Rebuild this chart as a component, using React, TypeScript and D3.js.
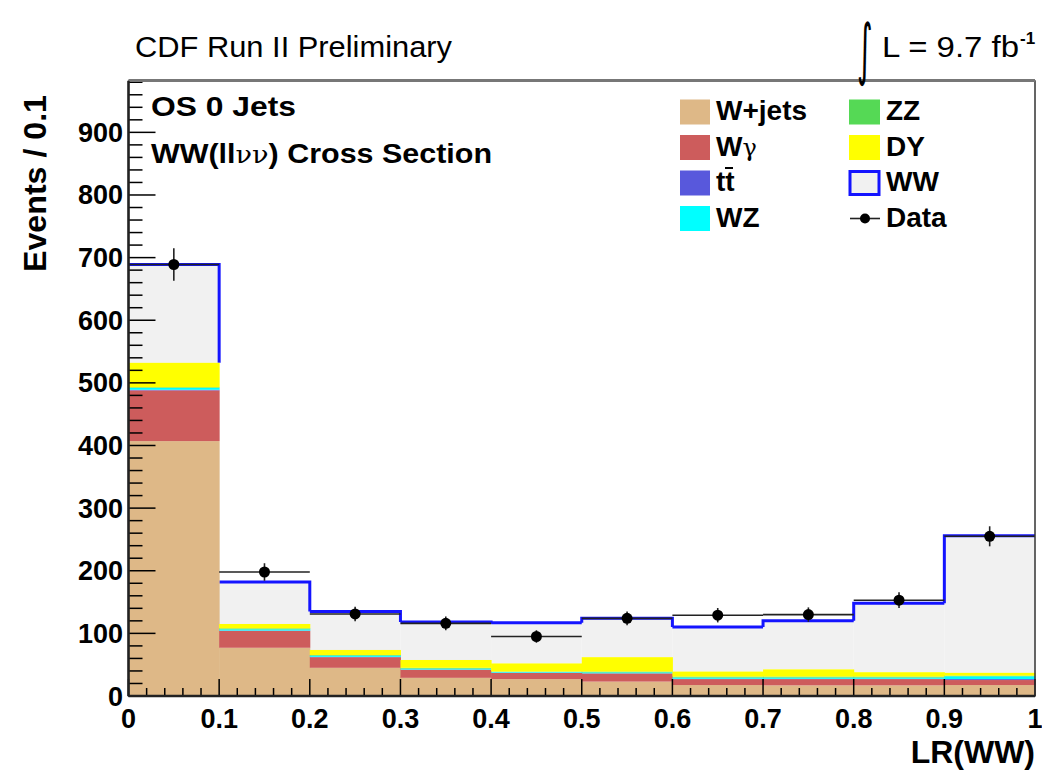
import React from "react";
import * as d3 from "d3";

// LR(WW) bins: lower edges 0.0 ... 0.9, width 0.1
const binEdges = [0, 0.1, 0.2, 0.3, 0.4, 0.5, 0.6, 0.7, 0.8, 0.9, 1.0];

// Background and signal expectations per bin (events / 0.1)
const wJets = [407, 77, 45, 29, 27, 23, 17.5, 17, 17, 17.5];
const wGamma = [81, 27, 17, 13, 10, 13, 9.5, 10, 10, 8];
const ttbar = [1, 0.5, 0.5, 0.3, 0.3, 0.3, 0.5, 0.5, 0.5, 1.5];
const wz = [3, 2, 2, 1.5, 1.2, 1.5, 2, 2, 2, 4.5];
const zz = [1, 1.5, 1, 1.2, 0.5, 1.2, 1.5, 1.5, 1.5, 1];
const dy = [39, 7, 8, 12.5, 13, 23, 8, 11.5, 7, 4.5];
const ww = [157, 67, 61.5, 60.5, 65, 62, 71, 77.5, 110, 219];

// Observed data and statistical errors
const dataCounts = [689, 198, 131, 116, 95, 124, 129, 130, 153, 255];
const dataErrors = [26, 14, 11.5, 11, 10, 11, 11.5, 11.5, 12.5, 16];

const yMajorTicks = [0, 100, 200, 300, 400, 500, 600, 700, 800, 900];
const xMajorTicks = [0, 0.1, 0.2, 0.3, 0.4, 0.5, 0.6, 0.7, 0.8, 0.9, 1];
const xTickLabels = ["0", "0.1", "0.2", "0.3", "0.4", "0.5", "0.6", "0.7", "0.8", "0.9", "1"];

const COLORS = {
  wJets: "#deb887",
  wGamma: "#cd5c5c",
  ttbar: "#5858dc",
  wz: "#00ffff",
  zz: "#55d955",
  dy: "#ffff00",
  wwFill: "#f1f1f1",
  wwLine: "#1414ff",
};

const FONT = "'Liberation Sans', Arial, Helvetica, sans-serif";

export default function App() {
  const width = 1042;
  const height = 773;
  const x = d3.scaleLinear().domain([0, 1]).range([128.5, 1035]);
  const y = d3.scaleLinear().domain([0, 982]).range([696, 81]);

  const nBins = wJets.length;
  // stack order bottom -> top
  const components = [
    { key: "wJets", values: wJets, color: COLORS.wJets },
    { key: "wGamma", values: wGamma, color: COLORS.wGamma },
    { key: "ttbar", values: ttbar, color: COLORS.ttbar },
    { key: "wz", values: wz, color: COLORS.wz },
    { key: "zz", values: zz, color: COLORS.zz },
    { key: "dy", values: dy, color: COLORS.dy },
  ];

  const bins = d3.range(nBins);
  const lowerTotals = bins.map((i) => components.reduce((s, c) => s + c.values[i], 0));
  const totals = bins.map((i) => lowerTotals[i] + ww[i]);

  // stacked rectangles for the backgrounds
  const stackRects: any[] = [];
  bins.forEach((i) => {
    let base = 0;
    components.forEach((c) => {
      const v = c.values[i];
      stackRects.push({
        key: `${c.key}-${i}`,
        x0: x(binEdges[i]),
        x1: x(binEdges[i + 1]),
        yTop: y(base + v),
        yBot: y(base),
        color: c.color,
      });
      base += v;
    });
  });

  // outline of the total expectation (WW on top of the stack)
  let outline = "";
  bins.forEach((i) => {
    const x0 = x(binEdges[i]);
    const x1 = x(binEdges[i + 1]);
    const yt = y(totals[i]);
    outline += `${i === 0 ? "M" : "L"}${x0},${yt}L${x1},${yt}`;
    if (i < nBins - 1) {
      const hi = Math.max(totals[i], totals[i + 1]);
      const lo = Math.min(totals[i], totals[i + 1]);
      const coverTop = totals[i] > totals[i + 1] ? lowerTotals[i] : lowerTotals[i + 1];
      const stop = Math.max(lo, coverTop);
      if (totals[i] > totals[i + 1]) {
        outline += `L${x1},${y(stop)}M${x1},${y(totals[i + 1])}`;
      } else {
        outline += `M${x1},${y(stop)}L${x1},${y(hi)}`;
      }
    }
  });

  const yMinor = d3.range(0, 981, 20).filter((v) => v % 100 !== 0);
  const xMinor = d3.range(0, 51).map((k) => k / 50).filter((_, k) => k % 5 !== 0);

  const legendLeft = [
    { label: "W+jets", color: COLORS.wJets },
    { label: "Wγ", color: COLORS.wGamma },
    { label: "tt", color: COLORS.ttbar },
    { label: "WZ", color: COLORS.wz },
  ];
  const legendRight = [
    { label: "ZZ", color: COLORS.zz },
    { label: "DY", color: COLORS.dy },
    { label: "WW", color: COLORS.wwFill },
    { label: "Data", color: "none" },
  ];

  const legendBase = 120;
  const legendStep = 35.5;

  const renderLabel = (label: string, tx: number, ty: number) => {
    if (label === "Wγ") {
      return (
        <text x={tx} y={ty} fontFamily={FONT} fontSize={28} fontWeight="bold">
          W<tspan fontWeight="normal" fontFamily="'DejaVu Serif', serif" fontSize={24}>γ</tspan>
        </text>
      );
    }
    if (label === "tt") {
      return (
        <g>
          <text x={tx} y={ty} fontFamily={FONT} fontSize={28} fontWeight="bold">tt</text>
          <line x1={tx + 9} x2={tx + 17} y1={ty - 23} y2={ty - 23} stroke="#000" strokeWidth={2} />
        </g>
      );
    }
    return (
      <text x={tx} y={ty} fontFamily={FONT} fontSize={28} fontWeight="bold">{label}</text>
    );
  };

  return (
    <svg
      width={width}
      height={height}
      viewBox={`0 0 ${width} ${height}`}
      style={{ position: "absolute", left: 0, top: 0, background: "#fff" }}
    >
      <rect x={0} y={0} width={width} height={height} fill="#fff" />

      {/* frame background */}
      <rect x={x(0)} y={y(982)} width={x(1) - x(0)} height={y(0) - y(982)} fill="#fff" />

      {/* WW on top of the stack */}
      {bins.map((i) => (
        <rect
          key={`ww-${i}`}
          x={x(binEdges[i])}
          width={x(binEdges[i + 1]) - x(binEdges[i])}
          y={y(totals[i])}
          height={y(lowerTotals[i]) - y(totals[i])}
          fill={COLORS.wwFill}
        />
      ))}
      <path d={outline} fill="none" stroke={COLORS.wwLine} strokeWidth={3} />

      {/* background stack */}
      {stackRects.map((r) => (
        <rect
          key={r.key}
          x={r.x0}
          width={r.x1 - r.x0 + 0.5}
          y={r.yTop}
          height={Math.max(0, r.yBot - r.yTop)}
          fill={r.color}
        />
      ))}

      {/* data points */}
      {bins.map((i) => {
        const cx = x((binEdges[i] + binEdges[i + 1]) / 2);
        const cy = y(dataCounts[i]);
        return (
          <g key={`d-${i}`}>
            <line x1={x(binEdges[i])} x2={x(binEdges[i + 1])} y1={cy} y2={cy} stroke="#222" strokeWidth={1.6} />
            <line x1={cx} x2={cx} y1={y(dataCounts[i] + dataErrors[i])} y2={y(dataCounts[i] - dataErrors[i])} stroke="#222" strokeWidth={1.6} />
            <circle cx={cx} cy={cy} r={5.5} fill="#000" />
          </g>
        );
      })}

      {/* ticks */}
      {yMajorTicks.map((v) => (
        <line key={`ymj-${v}`} x1={x(0)} x2={x(0) + 27} y1={y(v)} y2={y(v)} stroke="#000" strokeWidth={1.5} />
      ))}
      {yMinor.map((v) => (
        <line key={`ymn-${v}`} x1={x(0)} x2={x(0) + 14} y1={y(v)} y2={y(v)} stroke="#000" strokeWidth={1.5} />
      ))}
      {xMajorTicks.map((v) => (
        <line key={`xmj-${v}`} x1={x(v)} x2={x(v)} y1={y(0)} y2={y(0) - 17} stroke="#000" strokeWidth={1.5} />
      ))}
      {xMinor.map((v) => (
        <line key={`xmn-${v}`} x1={x(v)} x2={x(v)} y1={y(0)} y2={y(0) - 8} stroke="#000" strokeWidth={1.5} />
      ))}

      {/* frame */}
      <rect
        x={x(0)}
        y={y(982)}
        width={x(1) - x(0)}
        height={y(0) - y(982)}
        fill="none"
        stroke="#333"
        strokeWidth={1.5}
      />
      <line x1={x(0)} x2={x(1)} y1={y(982) - 0.5} y2={y(982) - 0.5} stroke="#777" strokeWidth={3} />
      <line x1={x(0)} x2={x(0)} y1={y(982)} y2={y(0)} stroke="#222" strokeWidth={2.5} />
      <line x1={x(0)} x2={x(1)} y1={y(0)} y2={y(0)} stroke="#222" strokeWidth={2.5} />

      {/* tick labels */}
      {yMajorTicks.map((v) => (
        <text
          key={`yl-${v}`}
          x={123}
          y={y(v) + 9.5}
          textAnchor="end"
          fontFamily={FONT}
          fontWeight="bold"
          fontSize={27}
        >
          {v}
        </text>
      ))}
      {xMajorTicks.map((v, k) => (
        <text
          key={`xl-${v}`}
          x={x(v)}
          y={728}
          textAnchor="middle"
          fontFamily={FONT}
          fontWeight="bold"
          fontSize={27}
        >
          {xTickLabels[k]}
        </text>
      ))}

      {/* axis titles */}
      <text
        transform={`translate(46,272) rotate(-90)`}
        fontFamily={FONT}
        fontWeight="bold"
        fontSize={32}
        textLength={177}
        lengthAdjust="spacingAndGlyphs"
      >
        Events / 0.1
      </text>
      <text
        x={1035}
        y={763}
        textAnchor="end"
        fontFamily={FONT}
        fontWeight="bold"
        fontSize={32}
      >
        LR(WW)
      </text>

      {/* header */}
      <text x={135} y={57} fontFamily={FONT} fontSize={29} textLength={317} lengthAdjust="spacingAndGlyphs">
        CDF Run II Preliminary
      </text>
      <text
        transform="translate(857,72) scale(0.5,1.12)"
        fontFamily="'DejaVu Sans', sans-serif"
        fontSize={60}
      >
        ∫
      </text>
      <text x={882} y={57} fontFamily={FONT} fontSize={29} textLength={137} lengthAdjust="spacingAndGlyphs">
        L = 9.7 fb
      </text>
      <text x={1020} y={44} fontFamily={FONT} fontSize={17} fontWeight="bold">
        -1
      </text>

      {/* annotation */}
      <text x={151} y={116} fontFamily={FONT} fontSize={28} fontWeight="bold" textLength={145} lengthAdjust="spacingAndGlyphs">
        OS 0 Jets
      </text>
      <text x={151} y={163} fontFamily={FONT} fontSize={28} fontWeight="bold" textLength={341} lengthAdjust="spacingAndGlyphs">
        WW(ll<tspan fontWeight="normal" fontFamily="'DejaVu Serif', serif" fontSize={25}>νν</tspan>) Cross Section
      </text>

      {/* legend */}
      {legendLeft.map((e, k) => {
        const cy = legendBase - 8 + k * legendStep;
        return (
          <g key={`ll-${k}`}>
            <rect x={680} y={cy - 12.5} width={30} height={25} fill={e.color} />
            {renderLabel(e.label, 716, legendBase + k * legendStep)}
          </g>
        );
      })}
      {legendRight.map((e, k) => {
        const cy = legendBase - 8 + k * legendStep;
        return (
          <g key={`lr-${k}`}>
            {e.label === "Data" ? (
              <g>
                <line x1={850} x2={880} y1={cy} y2={cy} stroke="#222" strokeWidth={1.6} />
                <circle cx={865} cy={cy} r={5} fill="#000" />
              </g>
            ) : e.label === "WW" ? (
              <rect x={850} y={cy - 11.5} width={29} height={23} fill={COLORS.wwFill} stroke={COLORS.wwLine} strokeWidth={3} />
            ) : (
              <rect x={849} y={cy - 12.5} width={31} height={25} fill={e.color} />
            )}
            {renderLabel(e.label, 886, legendBase + k * legendStep)}
          </g>
        );
      })}
    </svg>
  );
}
